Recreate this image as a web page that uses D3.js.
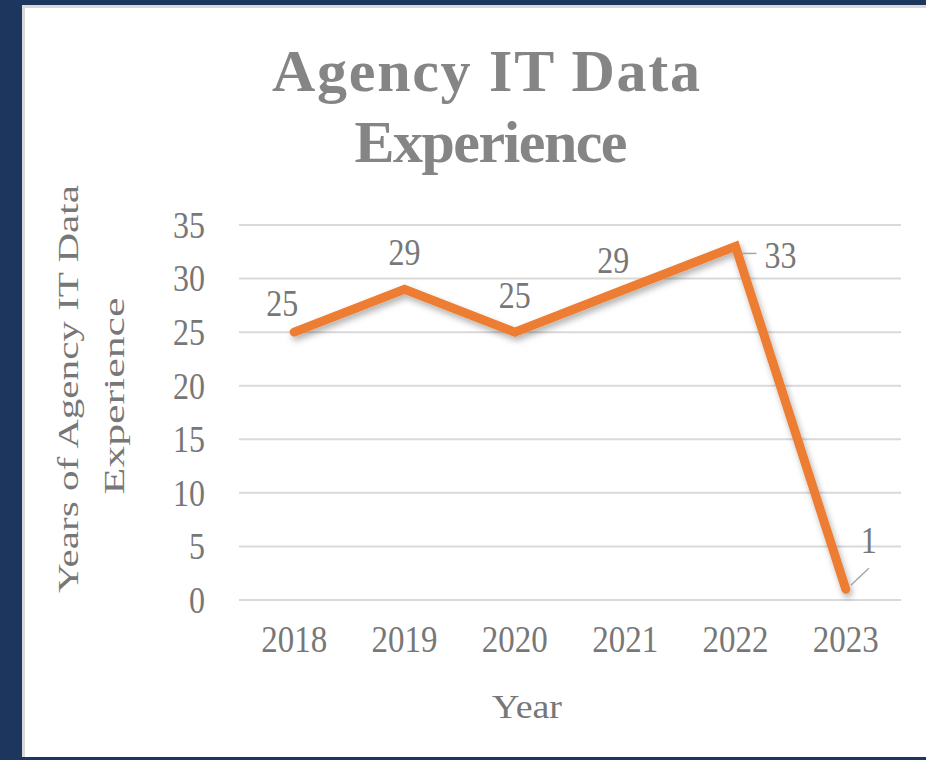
<!DOCTYPE html>
<html>
<head>
<meta charset="utf-8">
<script src="https://cdn.jsdelivr.net/npm/d3@7"></script>
<style>
  html, body { margin: 0; padding: 0; background: #1c365e; }
  svg { display: block; }
</style>
</head>
<body>
<div id="root"></div>
<script>
const years = ['2018', '2019', '2020', '2021', '2022', '2023'];
const experience = [25, 29, 25, 29, 33, 1];
const yTicks = [0, 5, 10, 15, 20, 25, 30, 35];
// where each data label sits around its point
const labelPlace = ['aboveLeft', 'above', 'above', 'aboveLeft', 'rightLeader', 'aboveRightLeader'];

const w = 926;
const h = 760;
const serif = '"Liberation Serif", "Times New Roman", serif';
const grey = '#777';

const svg = d3.select('#root')
  .append('svg')
  .attr('width', w)
  .attr('height', h);

const defs = svg.append('defs');
const shadow = defs.append('filter')
  .attr('id', 'shadow')
  .attr('x', '-10%').attr('y', '-10%')
  .attr('width', '120%').attr('height', '130%');
shadow.append('feDropShadow')
  .attr('dx', 2).attr('dy', 4)
  .attr('stdDeviation', 3)
  .attr('flood-color', '#000')
  .attr('flood-opacity', 0.3);

// navy frame + white panel
svg.append('rect').attr('width', w).attr('height', h).attr('fill', '#1c365e');
svg.append('rect')
  .attr('x', 22).attr('y', 5)
  .attr('width', w - 22).attr('height', 752)
  .attr('fill', '#d9d9d9');
svg.append('rect')
  .attr('x', 25).attr('y', 8)
  .attr('width', w - 25).attr('height', 749)
  .attr('fill', '#fff');

// title
const title = svg.append('g').attr('fill', '#858585')
  .style('font-family', serif).style('font-weight', 'bold')
  .attr('text-anchor', 'middle');
title.append('text')
  .attr('x', 486).attr('y', 91)
  .attr('font-size', 60)
  .attr('textLength', 428).attr('lengthAdjust', 'spacing')
  .text('Agency IT Data');
title.append('text')
  .attr('x', 491).attr('y', 162)
  .attr('font-size', 60)
  .attr('textLength', 273).attr('lengthAdjust', 'spacing')
  .text('Experience');

const xScale = d3.scaleBand()
  .domain(years)
  .range([239, 901]);

const yScale = d3.scaleLinear()
  .domain([0, 35])
  .range([600, 225]);

// gridlines
svg.append('g')
  .selectAll('line')
  .data(yTicks)
  .enter()
  .append('line')
  .attr('x1', xScale.range()[0])
  .attr('x2', xScale.range()[1])
  .attr('y1', d => yScale(d))
  .attr('y2', d => yScale(d))
  .attr('stroke', '#d9d9d9')
  .attr('stroke-width', 2);

// y axis labels
const yAxis = d3.axisLeft(yScale).tickValues(yTicks).tickSize(0).tickPadding(0);
const yG = svg.append('g')
  .attr('transform', 'translate(205, 0)')
  .call(yAxis);
yG.select('.domain').remove();
yG.selectAll('text')
  .attr('fill', grey)
  .attr('dy', null)
  .attr('font-size', 32)
  .style('font-family', serif)
  .attr('dominant-baseline', 'central')
  .attr('transform', 'scale(1, 1.18)');

// x axis labels
const xAxis = d3.axisBottom(xScale).tickSize(0).tickPadding(0);
const xG = svg.append('g')
  .attr('transform', 'translate(0, 652)')
  .call(xAxis);
xG.select('.domain').remove();
xG.selectAll('text')
  .attr('fill', grey)
  .attr('y', 0)
  .attr('dy', null)
  .attr('font-size', 33)
  .style('font-family', serif)
  .attr('transform', 'scale(1, 1.12)');

// axis titles
svg.append('text')
  .attr('x', 527).attr('y', 718)
  .attr('text-anchor', 'middle')
  .attr('fill', grey)
  .attr('font-size', 34)
  .style('font-family', serif)
  .attr('textLength', 70).attr('lengthAdjust', 'spacingAndGlyphs')
  .text('Year');

const yTitle = svg.append('g')
  .attr('fill', grey)
  .attr('font-size', 30)
  .style('font-family', serif)
  .attr('text-anchor', 'middle');
yTitle.append('text')
  .attr('transform', 'translate(78, 389) rotate(-90)')
  .attr('textLength', 408).attr('lengthAdjust', 'spacingAndGlyphs')
  .text('Years of Agency IT Data');
yTitle.append('text')
  .attr('transform', 'translate(124, 396) rotate(-90)')
  .attr('textLength', 197).attr('lengthAdjust', 'spacingAndGlyphs')
  .text('Experience');

// line
const pts = years.map((y, i) => ({ year: y, value: experience[i], place: labelPlace[i] }));
const cx = d => xScale(d.year) + xScale.bandwidth() / 2;
const cy = d => yScale(d.value);

const line = d3.line().x(cx).y(cy);
svg.append('path')
  .datum(pts)
  .attr('d', line)
  .attr('fill', 'none')
  .attr('stroke', '#ed7d31')
  .attr('stroke-width', 9)
  .attr('stroke-linejoin', 'miter')
  .attr('stroke-miterlimit', 4)
  .attr('stroke-linecap', 'round')
  .attr('filter', 'url(#shadow)');

// data labels
const offsets = {
  above: { dx: 0, dy: -24, anchor: 'middle' },
  aboveLeft: { dx: -12, dy: -16, anchor: 'middle' },
  rightLeader: { dx: 29, dy: 22, anchor: 'start', leader: [[6, 7], [21, 7]] },
  aboveRightLeader: { dx: 15, dy: -36, anchor: 'start', leader: [[5, -4], [23, -21]] }
};

const labels = svg.append('g');
pts.forEach(d => {
  const o = offsets[d.place];
  const x = cx(d) + o.dx;
  const y = cy(d) + o.dy;
  labels.append('text')
    .attr('x', x).attr('y', y)
    .attr('text-anchor', o.anchor)
    .attr('fill', grey)
    .attr('font-size', 32)
    .style('font-family', serif)
    .attr('transform', `translate(0, ${y}) scale(1, 1.18) translate(0, ${-y})`)
    .text(d.value);
  if (o.leader) {
    labels.append('line')
      .attr('x1', cx(d) + o.leader[0][0]).attr('y1', cy(d) + o.leader[0][1])
      .attr('x2', cx(d) + o.leader[1][0]).attr('y2', cy(d) + o.leader[1][1])
      .attr('stroke', '#a6a6a6')
      .attr('stroke-width', 1.5);
  }
});
</script>
</body>
</html>
